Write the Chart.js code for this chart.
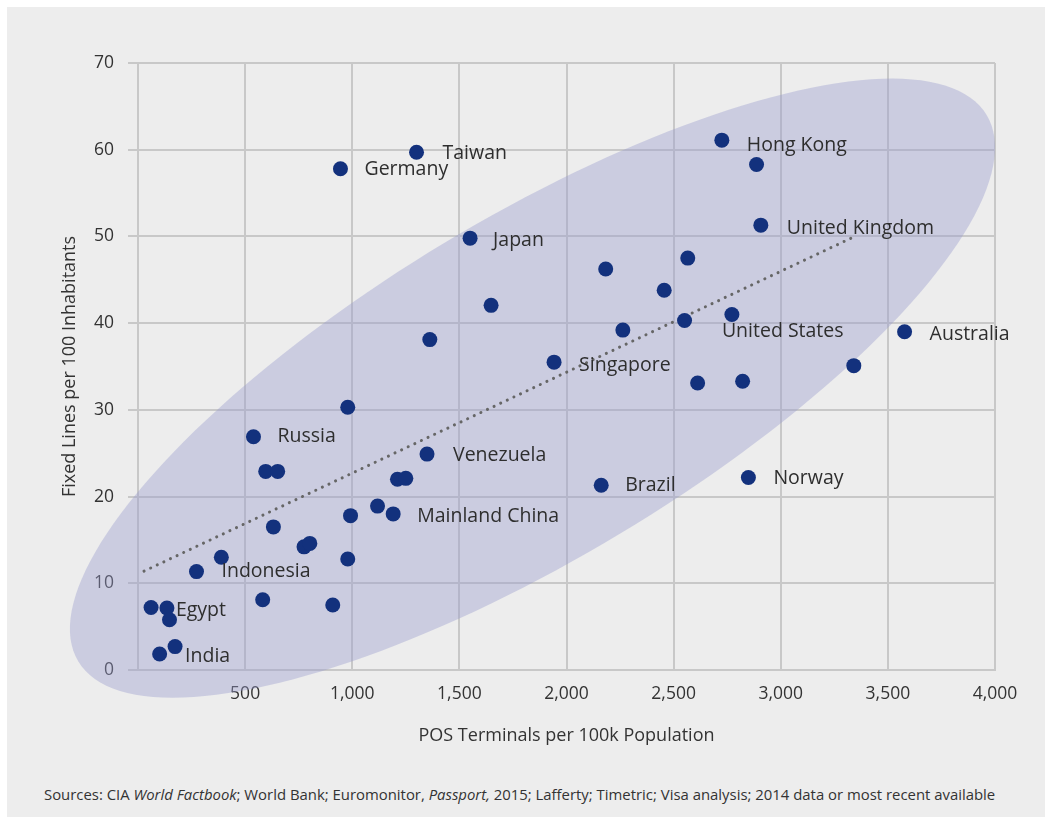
<!DOCTYPE html>
<html>
<head>
<meta charset="utf-8">
<script src="https://cdn.jsdelivr.net/npm/chart.js"></script>
<style>
  body { margin: 0; background: #fff; width: 1045px; height: 823px; position: relative; overflow: hidden; font-family: 'Open Sans', sans-serif; }
  #panel { position: absolute; left: 7px; top: 7px; width: 1038px; height: 810px; background: #ededed; }
  #chartBox { position: absolute; left: 0; top: 0; width: 1045px; height: 760px; }
  #source { position: absolute; left: 44px; top: 784px; font-size: 14.9px; color: #333; white-space: nowrap; }
</style>
</head>
<body>
<div id="panel"></div>
<div id="chartBox"><canvas id="posChart"></canvas></div>
<div id="source">Sources: CIA <i>World Factbook</i>; World Bank; Euromonitor, <i>Passport,</i> 2015; Lafferty; Timetric; Visa analysis; 2014 data or most recent available</div>
<script>
// POS terminals per 100k population (x) and fixed lines per 100 inhabitants (y)
const posTerminals = [61, 135, 147, 101, 173, 273, 389, 539, 596, 652, 582, 632, 775, 802, 909,
    979, 979, 992, 1118, 1191, 1211, 1250, 1349, 945, 1300, 1362, 1550, 1648, 1942, 2162,
    2183, 2263, 2456, 2551, 2566, 2612, 2725, 2772, 2822, 2849, 2887, 2907, 3341, 3578];
const fixedLines = [7.2, 7.15, 5.8, 1.85, 2.7, 11.35, 13.0, 26.9, 22.9, 22.9, 8.1, 16.5, 14.2, 14.6, 7.5,
    12.8, 30.3, 17.8, 18.9, 18.0, 22.0, 22.1, 24.9, 57.8, 59.7, 38.1, 49.8, 42.05, 35.5, 21.3,
    46.25, 39.2, 43.8, 40.3, 47.5, 33.1, 61.1, 41.0, 33.3, 22.2, 58.3, 51.3, 35.1, 39.0];
const countryNames = ['', 'Egypt', '', '', 'India', 'Indonesia', '', 'Russia', '', '', '', '', '', '', '',
    '', '', '', '', 'Mainland China', '', '', 'Venezuela', 'Germany', 'Taiwan', '', 'Japan', '', 'Singapore', 'Brazil',
    '', '', '', '', '', '', 'Hong Kong', 'United States', '', 'Norway', '', 'United Kingdom', '', 'Australia'];

// dotted trend line end points
const trendX = [28, 3337];
const trendY = [11.4, 49.9];

const xTicks = [0, 500, 1000, 1500, 2000, 2500, 3000, 3500, 4000];
const yTicks = [0, 10, 20, 30, 40, 50, 60, 70];

// shaded ellipse in data units: centre and two semi-axis vectors
const ellipseCenter = [1841, 32.5];
const ellipseAxisA = [2120, 31.5];
const ellipseAxisB = [408, -16.8];

// where each country label sits relative to its dot (pixels)
const labelOffsets = {
    'Egypt': [9, 2], 'India': [10, 10], 'Indonesia': [25, 0], 'Russia': [24, 0],
    'Mainland China': [24, 3], 'Venezuela': [26, 1], 'Germany': [24, 1], 'Taiwan': [26, 1],
    'Japan': [23, 2], 'Singapore': [25, 3], 'Brazil': [24, 0], 'Hong Kong': [25, 5],
    'United States': [-10, 17], 'Norway': [25, 1], 'United Kingdom': [26, 3], 'Australia': [25, 3]
};

const gridColor = 'rgb(200,200,200)';
const textColor = '#333';
Chart.defaults.font.family = "'Open Sans', sans-serif";
Chart.defaults.color = textColor;

const ellipsePlugin = {
    id: 'ellipse',
    beforeDatasetsDraw(chart) {
        const { ctx } = chart;
        const xs = chart.scales.x, ys = chart.scales.y;
        ctx.save();
        ctx.beginPath();
        for (let i = 0; i <= 180; i++) {
            const t = i / 180 * Math.PI * 2;
            const dx = ellipseCenter[0] + ellipseAxisA[0] * Math.cos(t) + ellipseAxisB[0] * Math.sin(t);
            const dy = ellipseCenter[1] + ellipseAxisA[1] * Math.cos(t) + ellipseAxisB[1] * Math.sin(t);
            const px = xs.getPixelForValue(dx), py = ys.getPixelForValue(dy);
            if (i === 0) ctx.moveTo(px, py); else ctx.lineTo(px, py);
        }
        ctx.closePath();
        ctx.fillStyle = 'rgba(152,154,206,0.4)';
        ctx.fill();
        ctx.restore();
    }
};

const labelPlugin = {
    id: 'countryLabels',
    afterDatasetsDraw(chart) {
        const { ctx } = chart;
        const meta = chart.getDatasetMeta(0);
        ctx.save();
        ctx.font = "19.5px 'Open Sans', sans-serif";
        ctx.fillStyle = '#2e2e2e';
        ctx.textAlign = 'left';
        ctx.textBaseline = 'middle';
        countryNames.forEach((name, i) => {
            if (!name) return;
            const pt = meta.data[i];
            const off = labelOffsets[name] || [24, 0];
            ctx.fillText(name, pt.x + off[0], pt.y + off[1]);
        });
        ctx.restore();
    }
};

const ctx = document.getElementById('posChart').getContext('2d');
new Chart(ctx, {
    type: 'scatter',
    data: {
        datasets: [{
            label: 'Countries',
            data: posTerminals.map((v, i) => ({ x: v, y: fixedLines[i] })),
            backgroundColor: '#13317d',
            borderWidth: 0,
            pointRadius: 7.5,
            pointHoverRadius: 7.5
        }, {
            label: 'Trend',
            data: trendX.map((v, i) => ({ x: v, y: trendY[i] })),
            showLine: true,
            borderColor: '#666',
            borderWidth: 3,
            borderDash: [0.1, 7.2],
            borderCapStyle: 'round',
            pointRadius: 0,
            fill: false
        }]
    },
    options: {
        responsive: true,
        maintainAspectRatio: false,
        animation: false,
        layout: { padding: { top: 63, right: 50, left: 0, bottom: 0 } },
        plugins: {
            legend: { display: false },
            tooltip: { enabled: false }
        },
        scales: {
            x: {
                type: 'linear',
                min: 0,
                max: 4000,
                afterBuildTicks: s => { s.ticks = xTicks.map(v => ({ value: v })); },
                afterFit: s => { s.height = 90; },
                grid: { color: gridColor, lineWidth: 2, drawTicks: false },
                border: { color: gridColor, width: 2 },
                ticks: {
                    padding: 14,
                    font: { size: 17.5 },
                    callback: v => v === 0 ? '' : v.toLocaleString('en-US')
                },
                title: {
                    display: true,
                    text: 'POS Terminals per 100k Population',
                    font: { size: 18 },
                    padding: { top: 0, bottom: 13 }
                }
            },
            y: {
                type: 'linear',
                min: 0,
                max: 70,
                afterBuildTicks: s => { s.ticks = yTicks.map(v => ({ value: v })); },
                afterFit: s => { s.width = 138; },
                grid: { color: gridColor, lineWidth: 2, tickLength: 10 },
                border: { color: gridColor, width: 2 },
                ticks: { padding: 14, font: { size: 17.5 } },
                title: {
                    display: true,
                    text: 'Fixed Lines per 100 Inhabitants',
                    font: { size: 18 },
                    padding: { top: 59, bottom: 0 }
                }
            }
        }
    },
    plugins: [ellipsePlugin, labelPlugin]
});
</script>
</body>
</html>
